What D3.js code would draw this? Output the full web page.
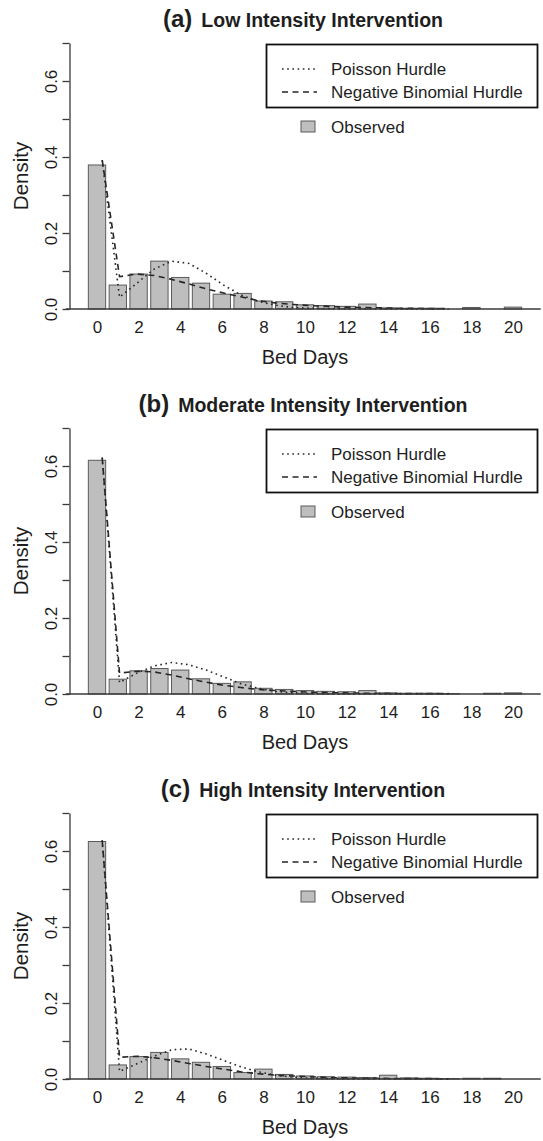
<!DOCTYPE html>
<html>
<head>
<meta charset="utf-8">
<script src="https://cdn.jsdelivr.net/npm/d3@7/dist/d3.min.js"></script>
<style>
  body { margin: 0; background: #fff; }
  svg text { font-family: "Liberation Sans", Arial, Helvetica, sans-serif; fill: #1e1e1e; }
</style>
</head>
<body>
<div id="chart"></div>
<script>
// bed days 0..20 and the observed / fitted densities per intervention arm
const bedDays = [0, 1, 2, 3, 4, 5, 6, 7, 8, 9, 10, 11, 12, 13, 14, 15, 16, 17, 18, 19, 20];
const xTickLabels = [0, 2, 4, 6, 8, 10, 12, 14, 16, 18, 20];
const yTicks = [0, 0.1, 0.2, 0.3, 0.4, 0.5, 0.6, 0.7];
const yTickLabels = [0, 0.2, 0.4, 0.6];

const panelLetters = ['(a)', '(b)', '(c)'];
const panelTitles = ['Low Intensity Intervention', 'Moderate Intensity Intervention', 'High Intensity Intervention'];

const observedLow = [0.379, 0.063, 0.092, 0.126, 0.083, 0.068, 0.039, 0.041, 0.021, 0.019, 0.011, 0.009, 0.007, 0.013, 0.003, 0.002, 0.002, 0, 0.004, 0, 0.005];
const poissonLow = [0.392, 0.031, 0.068, 0.105, 0.126, 0.12, 0.094, 0.063, 0.037, 0.02, 0.01, 0.004, 0.002, 0.001, 0, 0, 0, 0, 0, 0, 0];
const negbinLow = [0.392, 0.085, 0.092, 0.088, 0.078, 0.066, 0.053, 0.042, 0.032, 0.022, 0.016, 0.012, 0.009, 0.007, 0.005, 0.004, 0.003, 0.002, 0.002, 0.001, 0.001];

const observedMod = [0.615, 0.039, 0.061, 0.067, 0.063, 0.04, 0.028, 0.032, 0.015, 0.012, 0.009, 0.007, 0.006, 0.009, 0.003, 0.002, 0.002, 0.001, 0, 0.002, 0.003];
const poissonMod = [0.622, 0.03, 0.055, 0.074, 0.083, 0.077, 0.063, 0.045, 0.027, 0.015, 0.007, 0.003, 0.001, 0, 0, 0, 0, 0, 0, 0, 0];
const negbinMod = [0.622, 0.055, 0.06, 0.058, 0.05, 0.04, 0.031, 0.023, 0.017, 0.012, 0.009, 0.007, 0.005, 0.004, 0.003, 0.002, 0.002, 0.001, 0.001, 0.001, 0.001];

const observedHigh = [0.625, 0.037, 0.059, 0.07, 0.053, 0.044, 0.033, 0.017, 0.026, 0.012, 0.008, 0.006, 0.005, 0.004, 0.01, 0.003, 0.002, 0.001, 0.002, 0.002, 0];
const poissonHigh = [0.628, 0.02, 0.04, 0.06, 0.077, 0.079, 0.066, 0.049, 0.032, 0.019, 0.01, 0.005, 0.002, 0.001, 0, 0, 0, 0, 0, 0, 0];
const negbinHigh = [0.628, 0.057, 0.06, 0.056, 0.049, 0.041, 0.033, 0.026, 0.019, 0.014, 0.01, 0.008, 0.006, 0.004, 0.003, 0.002, 0.002, 0.001, 0.001, 0.001, 0];

const panels = [
  { observed: observedLow, poisson: poissonLow, negbin: negbinLow },
  { observed: observedMod, poisson: poissonMod, negbin: negbinMod },
  { observed: observedHigh, poisson: poissonHigh, negbin: negbinHigh }
];

const width = 543, height = 1141;
const panelStep = 385;

const svg = d3.select('#chart').append('svg')
  .attr('width', width)
  .attr('height', height);

// barplot coordinates like R: bar k sits on [0.2 + 1.2k, 1.2 + 1.2k], the fitted lines at k + 1
const x = d3.scaleLinear().domain([-0.8, 26.2]).range([71, 539]);
const y = d3.scaleLinear().domain([0, 0.7]).range([309, 43]);
const barLeft = k => 0.2 + 1.2 * k;
const barMid = k => 0.7 + 1.2 * k;

const line = d3.line()
  .x((d, i) => x(bedDays[i] + 1))
  .y(d => y(d));

panels.forEach((p, i) => {
  const g = svg.append('g').attr('transform', `translate(0,${i * panelStep})`);

  // title
  const title = g.append('text')
    .attr('x', 303)
    .attr('y', 27)
    .attr('text-anchor', 'middle')
    .style('font-weight', 'bold');
  title.append('tspan').style('font-size', '24px').text(panelLetters[i]);
  title.append('tspan').style('font-size', '19.5px').attr('dx', 9).text(panelTitles[i]);

  // bars
  g.append('g').selectAll('rect')
    .data(p.observed)
    .enter().append('rect')
    .attr('x', (d, k) => x(barLeft(k)))
    .attr('width', x(1) - x(0))
    .attr('y', d => y(d))
    .attr('height', d => y(0) - y(d))
    .attr('fill', '#bebebe')
    .attr('stroke', '#5a5a5a')
    .attr('stroke-width', 1);

  // fitted curves
  g.append('path')
    .datum(p.poisson)
    .attr('d', line)
    .attr('fill', 'none')
    .attr('stroke', '#262626')
    .attr('stroke-width', 1.6)
    .attr('stroke-dasharray', '1.6,3.6');

  g.append('path')
    .datum(p.negbin)
    .attr('d', line)
    .attr('fill', 'none')
    .attr('stroke', '#262626')
    .attr('stroke-width', 1.6)
    .attr('stroke-dasharray', '6,4.5');

  // y axis
  const yAxis = g.append('g')
    .attr('transform', `translate(${x(-0.8) - 1.5},0)`)
    .call(d3.axisLeft(y)
      .tickValues(yTicks)
      .tickSize(7)
      .tickSizeOuter(0)
      .tickFormat(d => yTickLabels.some(v => Math.abs(v - d) < 1e-9) ? d3.format('.1f')(d) : ''));
  yAxis.select('.domain').attr('stroke', '#3a3a3a').attr('stroke-width', 1.3);
  yAxis.selectAll('.tick line').attr('stroke', '#3a3a3a').attr('stroke-width', 1.3);
  yAxis.selectAll('.tick text')
    .attr('transform', 'rotate(-90)')
    .attr('x', 0)
    .attr('y', -13)
    .attr('dy', 0)
    .attr('text-anchor', 'middle')
    .style('font-size', '17px')
    .attr('fill', '#1e1e1e');

  // x axis: baseline plus labels under the bars
  g.append('line')
    .attr('x1', x(-1.1))
    .attr('x2', x(26.3))
    .attr('y1', y(0))
    .attr('y2', y(0))
    .attr('stroke', '#3a3a3a')
    .attr('stroke-width', 1.3);

  const xAxis = g.append('g')
    .attr('transform', `translate(0,${y(0)})`)
    .call(d3.axisBottom(x)
      .tickValues(xTickLabels.map(barMid))
      .tickSize(0)
      .tickFormat((d, j) => xTickLabels[j]));
  xAxis.select('.domain').remove();
  xAxis.selectAll('.tick text')
    .attr('y', 24)
    .attr('dy', 0)
    .style('font-size', '17px')
    .attr('fill', '#1e1e1e');

  g.append('text')
    .attr('x', 305)
    .attr('y', y(0) + 55)
    .attr('text-anchor', 'middle')
    .style('font-size', '20px')
    .text('Bed Days');

  g.append('text')
    .attr('transform', `translate(28,${(y(0) + y(0.7)) / 2}) rotate(-90)`)
    .attr('text-anchor', 'middle')
    .style('font-size', '20.5px')
    .text('Density');

  // legend
  const lg = g.append('g');
  lg.append('rect')
    .attr('x', 266.5)
    .attr('y', 44.5)
    .attr('width', 271)
    .attr('height', 63)
    .attr('fill', 'none')
    .attr('stroke', '#111')
    .attr('stroke-width', 1.8);

  const legendItems = [
    { label: 'Poisson Hurdle', dash: '1.6,3.6', cy: 69 },
    { label: 'Negative Binomial Hurdle', dash: '6,4.5', cy: 92 }
  ];
  legendItems.forEach(it => {
    lg.append('line')
      .attr('x1', 282).attr('x2', 317)
      .attr('y1', it.cy).attr('y2', it.cy)
      .attr('stroke', '#262626')
      .attr('stroke-width', 1.6)
      .attr('stroke-dasharray', it.dash);
    lg.append('text')
      .attr('x', 331)
      .attr('y', it.cy + 6)
      .style('font-size', '17px')
      .text(it.label);
  });

  lg.append('rect')
    .attr('x', 301)
    .attr('y', 121)
    .attr('width', 14)
    .attr('height', 11)
    .attr('fill', '#bebebe')
    .attr('stroke', '#5a5a5a');
  lg.append('text')
    .attr('x', 331)
    .attr('y', 133)
    .style('font-size', '17px')
    .text('Observed');
});
</script>
</body>
</html>
